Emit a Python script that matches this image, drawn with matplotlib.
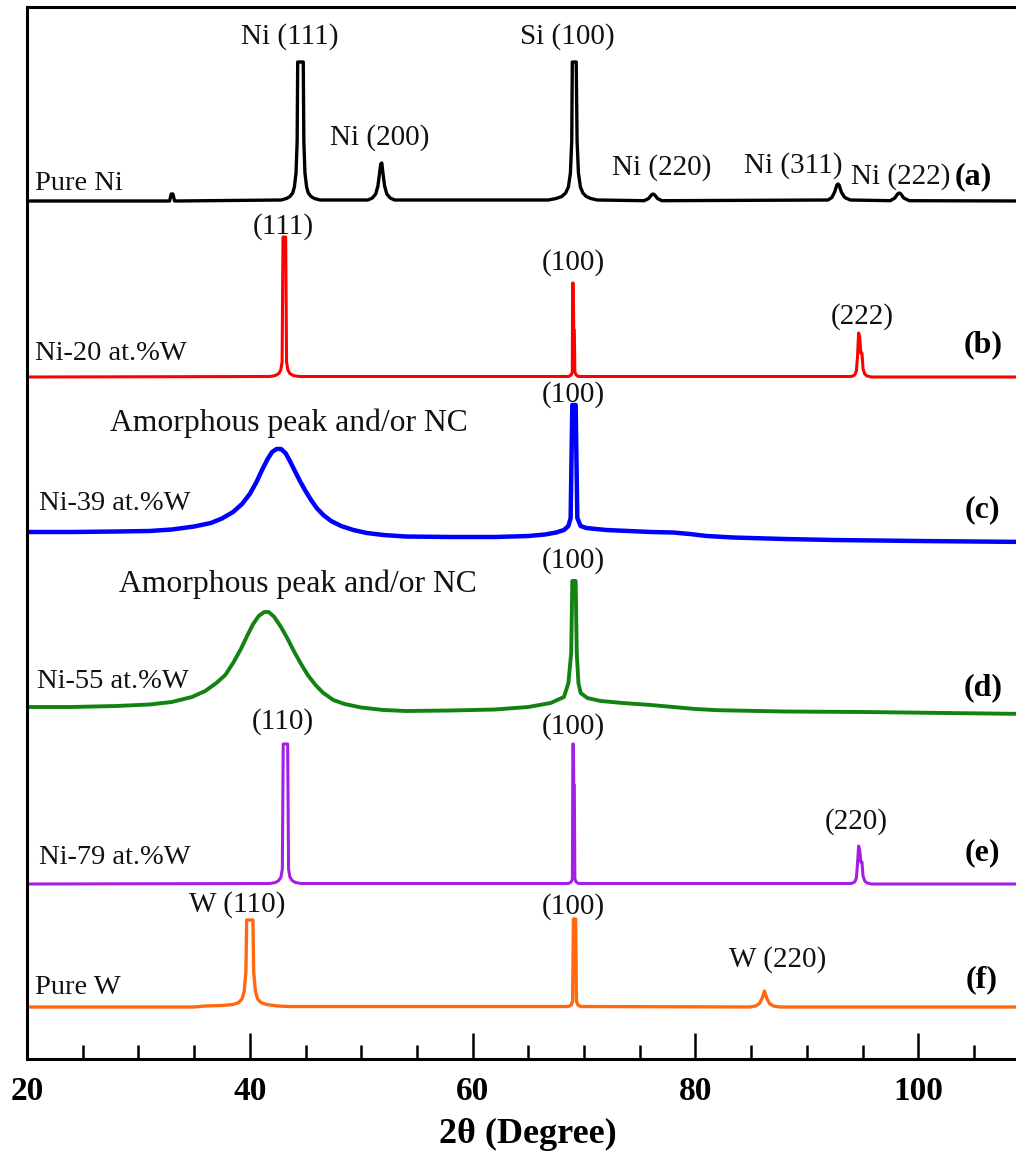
import matplotlib
matplotlib.use("Agg")
import matplotlib.pyplot as plt
from matplotlib.ticker import MultipleLocator

# ---------------- data (2theta in degrees, intensity in a.u.) ----------------
pure_ni = [(20, 0), (32.8, 0), (32.95, 7), (33.1, 7), (33.25, 0),
           (42.8, 1), (43.3, 2.5), (43.6, 4.5), (43.85, 8), (44.0, 14), (44.15, 28), (44.25, 60),
           (44.3, 139), (44.8, 139), (44.85, 60), (44.95, 28), (45.1, 14), (45.25, 8), (45.5, 4.5),
           (45.8, 2.5), (46.3, 1),
           (50.6, 1), (51.0, 3), (51.3, 7), (51.5, 15), (51.65, 28), (51.75, 37), (51.85, 38),
           (51.95, 28), (52.1, 15), (52.3, 7), (52.6, 3), (53.0, 1),
           (66.8, 1), (67.5, 2.5), (68.0, 4.5), (68.35, 8), (68.6, 14), (68.78, 28), (68.9, 60),
           (68.95, 139), (69.3, 139), (69.38, 60), (69.5, 28), (69.68, 14), (69.9, 8), (70.2, 4.5),
           (70.6, 2.5), (71.2, 1),
           (75.4, 0.3), (75.8, 2.5), (76.05, 6), (76.2, 7), (76.35, 6), (76.6, 2.5), (77.0, 0.3),
           (91.9, 1), (92.25, 3.5), (92.5, 9), (92.7, 16), (92.8, 17), (92.9, 16), (93.1, 9),
           (93.4, 3.5), (93.9, 1),
           (97.5, 0.3), (97.9, 3), (98.15, 7), (98.3, 8), (98.45, 7), (98.7, 3), (99.2, 0.3),
           (110, 0)]

ni20w = [(20, 0), (41.8, 0.5), (42.3, 1.5), (42.6, 3.5), (42.78, 7), (42.9, 15), (42.98, 140),
         (43.22, 140), (43.3, 15), (43.42, 7), (43.6, 3.5), (43.9, 1.5), (44.4, 0.5),
         (68.6, 0.5), (68.85, 2), (68.95, 5), (68.98, 94), (69.03, 94), (69.08, 47),
         (69.13, 47), (69.18, 5), (69.3, 2), (69.5, 0.5),
         (94.0, 0.5), (94.3, 2), (94.45, 6), (94.55, 20), (94.65, 44), (94.75, 40), (94.85, 24),
         (94.95, 24), (95.05, 8), (95.2, 3), (95.4, 1), (95.8, 0), (110, 0)]

ni39w = [(20, 10), (24, 10), (28, 10.5), (31, 11), (33, 12.5), (35, 15.5), (36.5, 19),
         (37.5, 23.5), (38.5, 30), (39.3, 38), (40.0, 48), (40.6, 60), (41.1, 72), (41.6, 83),
         (42.0, 90), (42.4, 93), (42.8, 93), (43.2, 89), (43.6, 81), (44.0, 72), (44.5, 61),
         (45.0, 51), (45.5, 42), (46.0, 34), (46.6, 27), (47.3, 21), (48.2, 16), (49.3, 12),
         (50.5, 9), (52, 7), (54, 5.5), (58, 5), (62, 5), (65, 6), (66.5, 7.5), (67.5, 9.5),
         (68.2, 12), (68.6, 16), (68.8, 24), (68.95, 137), (69.25, 137), (69.4, 24),
         (69.7, 16), (70.2, 14), (72, 12), (74, 11), (76, 10), (78, 9.5), (79.5, 8),
         (81, 6), (83.4, 4.5), (88, 3), (92.4, 2), (100, 1), (110, 0)]

ni55w = [(20, 6), (24, 6), (28, 7), (31, 8.5), (33, 11), (34.8, 16), (36, 22), (37, 30),
         (37.8, 38), (38.5, 50), (39.2, 64), (39.8, 78), (40.3, 89), (40.8, 97), (41.3, 101),
         (41.7, 101), (42.2, 96), (42.8, 86), (43.4, 74), (44.0, 61), (44.6, 49), (45.2, 38),
         (45.9, 28), (46.6, 20), (47.5, 13), (48.5, 9), (50, 5.5), (52, 3), (54, 2), (58, 2.5),
         (62, 3.5), (65, 6), (67, 10), (68.2, 16), (68.6, 30), (68.85, 60), (68.95, 132),
         (69.25, 132), (69.35, 60), (69.5, 30), (69.7, 20), (70.3, 15), (71.5, 12), (73.5, 10),
         (76, 8), (78, 6), (80, 4), (82, 2.8), (88, 1.5), (95, 1), (110, -1)]

ni79w = [(20, 0), (41.8, 0.5), (42.3, 1.5), (42.6, 3.5), (42.8, 7), (42.92, 15), (43.0, 140),
         (43.4, 140), (43.48, 15), (43.6, 7), (43.8, 3.5), (44.1, 1.5), (44.6, 0.5),
         (68.6, 0.5), (68.85, 2), (68.96, 5), (69.0, 140), (69.05, 140), (69.08, 99),
         (69.13, 99), (69.18, 5), (69.3, 2), (69.5, 0.5),
         (94.0, 0.5), (94.3, 2), (94.45, 6), (94.55, 20), (94.65, 38), (94.75, 34), (94.85, 22),
         (94.95, 22), (95.05, 8), (95.2, 3), (95.4, 1), (95.8, 0), (110, 0)]

pure_w = [(20, 0), (35, 0), (36, 1), (37.5, 1.5), (38.5, 2.5), (39.0, 4.5), (39.3, 8),
          (39.5, 16), (39.65, 35), (39.72, 87), (40.28, 87), (40.35, 35), (40.5, 16), (40.7, 8),
          (41.0, 4.5), (41.5, 2.5), (42.5, 1), (43.5, 0.5),
          (68.6, 0.5), (68.85, 2), (68.98, 6), (69.05, 88), (69.25, 88), (69.32, 6), (69.45, 2),
          (69.7, 0.5),
          (84.9, 0), (85.4, 1), (85.75, 3.5), (86.0, 9), (86.2, 16), (86.4, 9), (86.65, 3.5),
          (87.0, 1), (87.6, 0), (110, 0)]

patterns = [pure_ni, ni20w, ni39w, ni55w, ni79w, pure_w]
offsets = [858, 682, 517, 346, 175, 52]
colors = ["#000000", "#ff0000", "#0000ff", "#128212", "#a51ee6", "#ff6a10"]
widths = [2.4, 2.2, 3.2, 2.8, 2.2, 2.4]
sample_names = ["Pure Ni", "Ni-20 at.%W", "Ni-39 at.%W", "Ni-55 at.%W", "Ni-79 at.%W", "Pure W"]
sample_pos = [(20.7, 876), (20.7, 705), (21.1, 556), (20.9, 377), (21.1, 201), (20.7, 71)]
panel_tags = ["(a)", "(b)", "(c)", "(d)", "(e)", "(f)"]
panel_pos = [(104.9, 882), (105.8, 714), (105.8, 549), (105.8, 371), (105.8, 206), (105.7, 79)]

peak_labels = ["Ni (111)", "Ni (200)", "Si (100)", "Ni (220)", "Ni (311)", "Ni (222)",
               "(111)", "(100)", "(222)",
               "(100)",
               "(100)",
               "(110)", "(100)", "(220)",
               "W (110)", "(100)", "W (220)"]
peak_label_pos = [(43.6, 1022), (51.7, 921), (68.5, 1022), (77.0, 891), (88.8, 893), (98.4, 882),
                  (43.0, 832), (69.0, 796), (95.0, 742),
                  (69.0, 664),
                  (69.0, 498),
                  (43.0, 337), (69.0, 332), (94.4, 237),
                  (38.9, 154), (69.0, 152), (87.4, 99)]
amorph_text = "Amorphous peak and/or NC"
amorph_pos = [(43.5, 636), (44.3, 475)]

xticks_major = [20, 40, 60, 80, 100]

# ---------------- figure ----------------
serif = ["Liberation Serif", "DejaVu Serif"]
fig = plt.figure(figsize=(10.16, 11.51), dpi=100)
ax = fig.add_axes([27 / 1016, 92 / 1151, 1002.6 / 1016, 1052 / 1151])

for pts, off, c, lw in zip(patterns, offsets, colors, widths):
    xs = [p[0] for p in pts]
    ys = [p[1] + off for p in pts]
    ax.plot(xs, ys, color=c, lw=lw, solid_joinstyle="round")

for name, (x, y) in zip(sample_names, sample_pos):
    ax.text(x, y, name, fontsize=20.5, family=serif, ha="left", va="center", color="#111111")
for tag, (x, y) in zip(panel_tags, panel_pos):
    ax.text(x, y, tag, fontsize=23, family=serif, fontweight="bold", ha="center", va="center")
for lab, (x, y) in zip(peak_labels, peak_label_pos):
    ax.text(x, y, lab, fontsize=21, family=serif, ha="center", va="center", color="#111111")
for (x, y) in amorph_pos:
    ax.text(x, y, amorph_text, fontsize=22.8, family=serif, ha="center", va="center", color="#111111")

ax.set_xlim(20, 110)
ax.set_ylim(0, 1052)
ax.set_yticks([])
ax.xaxis.set_major_locator(plt.FixedLocator(xticks_major))
ax.xaxis.set_minor_locator(MultipleLocator(5))
ax.tick_params(axis="x", which="major", direction="in", length=19, width=1.8, pad=12,
               labelsize=24)
ax.tick_params(axis="x", which="minor", direction="in", length=10, width=1.8)
for lbl in ax.get_xticklabels():
    lbl.set_fontfamily(serif)
    lbl.set_fontweight("bold")
for s in ax.spines.values():
    s.set_linewidth(2.2)
ax.set_xlabel("2θ (Degree)", fontsize=26, fontweight="bold", family=serif, labelpad=8)

fig.savefig("out.png", dpi=100)
